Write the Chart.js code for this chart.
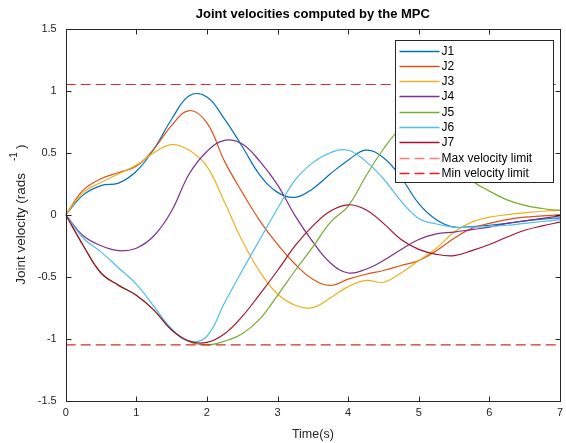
<!DOCTYPE html>
<html><head><meta charset="utf-8">
<script src="https://cdn.jsdelivr.net/npm/chart.js@4.4.1/dist/chart.umd.min.js"></script>
<style>html,body{margin:0;padding:0;background:#fff;}</style>
</head><body>
<canvas id="c" width="566" height="443"></canvas>
<script>
// ---- data ----
const time = [0,0.25,0.5,0.75,1,1.25,1.5,1.75,2,2.25,2.5,2.75,3,3.25,3.5,3.75,4,4.25,4.5,4.75,5,5.25,5.5,5.75,6,6.25,6.5,6.75,7];
const J1 = [0,0.16,0.235,0.255,0.35,0.53,0.77,0.96,0.95,0.77,0.55,0.32,0.18,0.14,0.21,0.33,0.44,0.52,0.46,0.3,0.09,-0.04,-0.1,-0.095,-0.085,-0.07,-0.05,-0.035,-0.025];
const J2 = [0,0.2,0.29,0.34,0.39,0.53,0.72,0.84,0.74,0.43,0.18,-0.05,-0.24,-0.4,-0.52,-0.57,-0.52,-0.48,-0.45,-0.41,-0.37,-0.29,-0.19,-0.11,-0.07,-0.04,-0.02,-0.01,0];
const J3 = [0,0.18,0.26,0.33,0.4,0.5,0.565,0.52,0.39,0.1,-0.21,-0.46,-0.64,-0.73,-0.75,-0.67,-0.58,-0.53,-0.545,-0.47,-0.37,-0.27,-0.14,-0.06,-0.02,0,0.015,0.028,0.035];
const J4 = [0,-0.17,-0.25,-0.29,-0.27,-0.17,0.03,0.33,0.51,0.6,0.57,0.43,0.24,-0.01,-0.22,-0.39,-0.47,-0.44,-0.37,-0.28,-0.2,-0.155,-0.14,-0.12,-0.1,-0.07,-0.05,-0.03,-0.01];
const J5 = [0,-0.25,-0.47,-0.57,-0.65,-0.77,-0.93,-1.025,-1.05,-1.02,-0.96,-0.84,-0.65,-0.45,-0.26,-0.06,0.07,0.31,0.53,0.7,0.78,0.68,0.47,0.28,0.19,0.12,0.075,0.05,0.035];
const J6 = [0,-0.19,-0.3,-0.43,-0.56,-0.74,-0.92,-1.02,-0.98,-0.71,-0.45,-0.2,0.05,0.28,0.42,0.5,0.52,0.43,0.29,0.11,-0.03,-0.075,-0.1,-0.1,-0.095,-0.085,-0.07,-0.055,-0.04];
const J7 = [0,-0.25,-0.47,-0.57,-0.65,-0.77,-0.93,-1.02,-1.03,-0.96,-0.82,-0.64,-0.45,-0.25,-0.09,0.03,0.08,0.04,-0.07,-0.2,-0.28,-0.32,-0.33,-0.29,-0.24,-0.18,-0.125,-0.09,-0.06];
const limitTime = [0, 7];
const maxLimit = [1.05, 1.05];
const minLimit = [-1.05, -1.05];
const xTicks = [0,1,2,3,4,5,6,7];
const yTicks = [-1.5,-1,-0.5,0,0.5,1,1.5];
const seriesNames = ['J1','J2','J3','J4','J5','J6','J7'];
const seriesValues = [J1,J2,J3,J4,J5,J6,J7];
const seriesColors = ['#0072BD','#D95319','#EDB120','#7E2F8E','#77AC30','#4DBEEE','#A2142F'];

const FONT = '"Liberation Sans", Arial, sans-serif';
const AXC = '#262626';

const datasets = seriesValues.map((vals, i) => ({
  label: seriesNames[i],
  data: time.map((t, k) => ({x: t, y: vals[k]})),
  borderColor: seriesColors[i],
  borderWidth: 1.2,
  pointRadius: 0,
  fill: false,
  tension: 0.4,
  order: 9 - i
}));
datasets.push({
  label: 'Max velocity limit',
  data: limitTime.map((t, k) => ({x: t, y: maxLimit[k]})),
  borderColor: '#d62a2a', legendColor: '#ff7a7a', borderWidth: 1.1, borderDash: [10,5],
  pointRadius: 0, fill: false, order: 2
});
datasets.push({
  label: 'Min velocity limit',
  data: limitTime.map((t, k) => ({x: t, y: minLimit[k]})),
  borderColor: '#d62a2a', legendColor: '#ff1a1a', borderWidth: 1.1, borderDash: [10,5],
  pointRadius: 0, fill: false, order: 1
});

const framePlugin = {
  id: 'frame',
  afterDraw(chart) {
    const {ctx, chartArea: a, scales: {x, y}} = chart;
    ctx.save();
    ctx.strokeStyle = AXC;
    ctx.lineWidth = 1;
    const L = Math.round(a.left) + 0.5, R = Math.round(a.right) + 0.5;
    const T = Math.round(a.top) + 0.5, B = Math.round(a.bottom) + 0.5;
    ctx.strokeRect(L, T, R - L, B - T);
    const TL = 5;
    ctx.beginPath();
    xTicks.forEach(v => {
      const px = Math.round(x.getPixelForValue(v)) + 0.5;
      ctx.moveTo(px, B); ctx.lineTo(px, B - TL);
      ctx.moveTo(px, T); ctx.lineTo(px, T + TL);
    });
    yTicks.forEach(v => {
      const py = Math.round(y.getPixelForValue(v)) + 0.5;
      ctx.moveTo(L, py); ctx.lineTo(L + TL, py);
      ctx.moveTo(R, py); ctx.lineTo(R - TL, py);
    });
    ctx.stroke();

    // title centred over the plot area
    ctx.fillStyle = '#000';
    ctx.font = 'bold 13px ' + FONT;
    ctx.textAlign = 'center';
    ctx.textBaseline = 'middle';
    ctx.fillText('Joint velocities computed by the MPC', (a.left + a.right) / 2, 14);

    // y-axis title with superscript
    ctx.translate(21, (a.top + a.bottom) / 2);
    ctx.rotate(-Math.PI / 2);
    ctx.fillStyle = AXC;
    ctx.textBaseline = 'middle';
    ctx.textAlign = 'left';
    const main = 'Joint velocity (rads', sup = '-1', close = ')';
    ctx.font = '13.5px ' + FONT;
    const w1 = ctx.measureText(main).width, w3 = ctx.measureText(close).width;
    ctx.font = '10px ' + FONT;
    const w2 = ctx.measureText(sup).width;
    const gap = 12;
    const total = w1 + gap + w2 + 3 + w3;
    let sx = -total / 2;
    ctx.font = '13.5px ' + FONT;
    ctx.fillText(main, sx, 0);
    ctx.font = '10px ' + FONT;
    ctx.fillText(sup, sx + w1 + gap, -7);
    ctx.font = '13.5px ' + FONT;
    ctx.fillText(close, sx + w1 + gap + w2 + 3, 0);
    ctx.restore();
  }
};

const legendPlugin = {
  id: 'boxLegend',
  afterDatasetsDraw(chart) {
    const {ctx, chartArea: a} = chart;
    const w = 158, h = 142;
    const lx = Math.round(a.right - 7 - w) + 0.5, ly = Math.round(a.top + 11) + 0.5;
    ctx.save();
    ctx.fillStyle = '#fff';
    ctx.fillRect(lx, ly, w, h);
    ctx.strokeStyle = AXC;
    ctx.lineWidth = 1;
    ctx.strokeRect(lx, ly, w, h);
    chart.data.datasets.forEach((ds, i) => {
      const cy = Math.round(ly + 10 + i * 15.3) + 0.5;
      ctx.strokeStyle = ds.legendColor || ds.borderColor;
      ctx.lineWidth = 1.5;
      ctx.setLineDash(ds.borderDash || []);
      ctx.beginPath();
      ctx.moveTo(lx + 4, cy); ctx.lineTo(lx + 44, cy);
      ctx.stroke();
      ctx.setLineDash([]);
      ctx.fillStyle = '#000';
      ctx.font = '12px ' + FONT;
      ctx.textBaseline = 'middle';
      ctx.textAlign = 'left';
      ctx.fillText(ds.label, lx + 46, cy);
    });
    ctx.restore();
  }
};

new Chart(document.getElementById('c'), {
  type: 'line',
  data: {datasets},
  options: {
    responsive: false,
    animation: false,
    devicePixelRatio: 1,
    layout: {padding: {top: 28.7, right: 6, bottom: 0, left: 0}},
    plugins: {
      legend: {display: false},
      tooltip: {enabled: false},
      title: {display: false}
    },
    scales: {
      x: {
        type: 'linear', min: 0, max: 7,
        afterBuildTicks: s => { s.ticks = xTicks.map(v => ({value: v})); },
        afterFit: s => { s.height = 42.3; s.paddingLeft = 0; s.paddingRight = 0; },
        grid: {display: false, drawTicks: false},
        border: {display: false},
        ticks: {color: AXC, font: {family: FONT, size: 11}, padding: 6, callback: v => String(v), maxRotation: 0},
        title: {display: true, text: 'Time(s)', color: AXC, font: {family: FONT, size: 12.5}, padding: {top: 0, bottom: 1}}
      },
      y: {
        type: 'linear', min: -1.5, max: 1.5,
        afterBuildTicks: s => { s.ticks = yTicks.map(v => ({value: v})); },
        afterFit: s => { s.width = 65.7; s.paddingTop = 0; s.paddingBottom = 0; },
        grid: {display: false, drawTicks: false},
        border: {display: false},
        ticks: {color: AXC, font: {family: FONT, size: 11}, padding: 9, callback: v => String(v)}
      }
    }
  },
  plugins: [legendPlugin, framePlugin]
});
</script>
</body></html>
